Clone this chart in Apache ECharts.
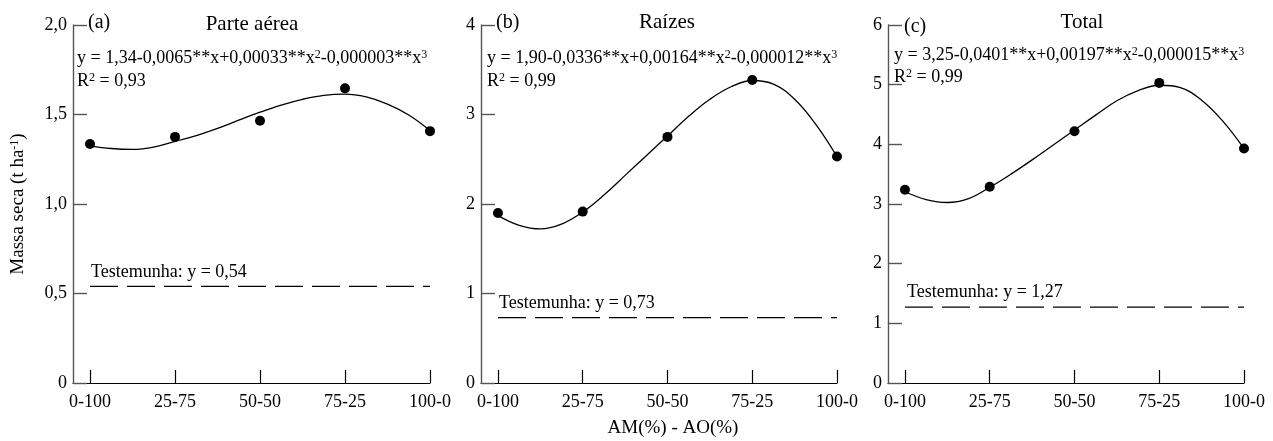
<!DOCTYPE html>
<html>
<head>
<meta charset="utf-8">
<script src="https://cdn.jsdelivr.net/npm/echarts@6/dist/echarts.min.js"></script>
<style>
html,body{margin:0;padding:0;background:#fff;}
#chart{width:1273px;height:441px;}
</style>
</head>
<body>
<div id="chart"></div>
<script>
// ---- data ----
const categories = ['0-100', '25-75', '50-50', '75-25', '100-0'];
const xLevels = [0, 25, 50, 75, 100];
const curveX = [0, 6.25, 12.5, 18.75, 25, 31.25, 37.5, 43.75, 50, 56.25, 62.5, 68.75, 75, 81.25, 87.5, 93.75, 100];

const pointsA = [1.335, 1.375, 1.465, 1.646, 1.407];
const curveA  = [1.325, 1.310, 1.305, 1.318, 1.350, 1.382, 1.422, 1.468, 1.513,
                 1.553, 1.585, 1.607, 1.614, 1.598, 1.558, 1.497, 1.410];
const controlA = 0.54;

const pointsB = [1.90, 1.915, 2.75, 3.385, 2.53];
const curveB  = [1.870, 1.762, 1.722, 1.775, 1.910, 2.100, 2.320, 2.540, 2.760,
                 2.980, 3.170, 3.310, 3.380, 3.340, 3.170, 2.890, 2.530];
const controlB = 0.73;

const pointsC = [3.24, 3.29, 4.22, 5.03, 3.93];
const curveC  = [3.205, 3.075, 3.025, 3.090, 3.280, 3.500, 3.740, 3.990, 4.240,
                 4.490, 4.730, 4.900, 4.990, 4.950, 4.740, 4.390, 3.930];
const controlC = 1.27;

const yTicksA = [0, 0.5, 1.0, 1.5, 2.0];
const yTicksB = [0, 1, 2, 3, 4];
const yTicksC = [0, 1, 2, 3, 4, 5, 6];

const panelTags = ['(a)', '(b)', '(c)'];
const panelTitles = ['Parte aérea', 'Raízes', 'Total'];
const equations = [
  'y = 1,34-0,0065**x+0,00033**x{sup|2}-0,000003**x{sup|3}',
  'y = 1,90-0,0336**x+0,00164**x{sup|2}-0,000012**x{sup|3}',
  'y = 3,25-0,0401**x+0,00197**x{sup|2}-0,000015**x{sup|3}'
];
const r2Texts = ['R{sup|2} = 0,93', 'R{sup|2} = 0,99', 'R{sup|2} = 0,99'];
const controlTexts = ['Testemunha: y = 0,54', 'Testemunha: y = 0,73', 'Testemunha: y = 1,27'];
const yAxisName = 'Massa seca (t ha{sup|-1})';
const xAxisName = 'AM(%) - AO(%)';

// ---- chart ----
const FONT = '"Liberation Serif", "Times New Roman", serif';
const chart = echarts.init(document.getElementById('chart'), null, {renderer: 'canvas'});

const grids = [
  {left: 73, top: 25, width: 357, height: 358},
  {left: 481, top: 25, width: 356, height: 358},
  {left: 888, top: 25, width: 356, height: 358}
];
const yTicks = [yTicksA, yTicksB, yTicksC];
const points = [pointsA, pointsB, pointsC];
const curves = [curveA, curveB, curveC];
const controls = [controlA, controlB, controlC];

function fmtNum(v, dec) {
  if (v === 0) return '0';
  return v.toFixed(dec).replace('.', ',');
}

const xAxes = grids.map((g, i) => ({
  type: 'value', gridIndex: i, min: -5, max: 100,
  axisLine: {show: true, onZero: false, lineStyle: {color: '#000', width: 1.2}},
  axisTick: {show: true, inside: true, length: 13, customValues: xLevels, lineStyle: {color: '#000', width: 1.2}},
  axisLabel: {
    customValues: xLevels, margin: 10,
    formatter: v => categories[xLevels.indexOf(v)],
    fontFamily: FONT, fontSize: 18, color: '#000'
  },
  splitLine: {show: false}
}));

const yAxes = grids.map((g, i) => {
  const t = yTicks[i];
  return {
    type: 'value', gridIndex: i, min: t[0], max: t[t.length - 1], interval: t[1] - t[0],
    axisLine: {show: true, onZero: false, lineStyle: {color: '#555', width: 1.4}},
    axisTick: {show: true, inside: true, length: 14, lineStyle: {color: '#555', width: 1.4}},
    axisLabel: {
      margin: 6, fontFamily: FONT, fontSize: 18, color: '#000',
      formatter: v => fmtNum(v, i === 0 ? 1 : 0)
    },
    splitLine: {show: false}
  };
});
yAxes[0].name = yAxisName;
yAxes[0].nameLocation = 'middle';
yAxes[0].nameRotate = 90;
yAxes[0].nameGap = 45;
yAxes[0].nameTextStyle = {
  fontFamily: FONT, fontSize: 19, color: '#000',
  rich: {sup: {fontFamily: FONT, fontSize: 12, verticalAlign: 'top', color: '#000'}}
};

const series = [];
grids.forEach((g, i) => {
  series.push({
    type: 'line', xAxisIndex: i, yAxisIndex: i, smooth: 0.4, showSymbol: false, symbol: 'none',
    data: curveX.map((x, k) => [x, curves[i][k]]),
    lineStyle: {color: '#000', width: 1.3}, silent: true, z: 2
  });
  series.push({
    type: 'scatter', xAxisIndex: i, yAxisIndex: i, symbol: 'circle', symbolSize: 10,
    data: xLevels.map((x, k) => [x, points[i][k]]),
    itemStyle: {color: '#000', opacity: 1}, z: 3
  });
  series.push({
    type: 'line', xAxisIndex: i, yAxisIndex: i, showSymbol: false, symbol: 'none',
    data: [[0, controls[i]], [100, controls[i]]],
    lineStyle: {color: '#000', width: 1.2, type: [28, 9]}, silent: true, z: 2
  });
});

const richBase = {sup: {fontFamily: FONT, fontSize: 12, verticalAlign: 'top', color: '#000'}};
const tagPos = [[88, 23], [496, 23], [904, 27]];
const titlePos = [[252, 24], [667, 22], [1082, 22]];
const eqPos = [[77, 58], [487, 58], [894, 55]];
const r2Pos = [[77, 81], [487, 81], [894, 77]];
const ctrlPos = [[91, 272], [499, 303], [907, 292]];

const graphic = [];
for (let i = 0; i < 3; i++) {
  graphic.push({type: 'text', x: tagPos[i][0], y: tagPos[i][1], style: {text: panelTags[i], font: '20px ' + FONT, fill: '#000', verticalAlign: 'middle'}});
  graphic.push({type: 'text', x: titlePos[i][0], y: titlePos[i][1], style: {text: panelTitles[i], font: '21px ' + FONT, fill: '#000', align: 'center', verticalAlign: 'middle'}});
  graphic.push({type: 'text', x: eqPos[i][0], y: eqPos[i][1], style: {text: equations[i], font: '18px ' + FONT, fill: '#000', verticalAlign: 'middle', rich: richBase}});
  graphic.push({type: 'text', x: r2Pos[i][0], y: r2Pos[i][1], style: {text: r2Texts[i], font: '18px ' + FONT, fill: '#000', verticalAlign: 'middle', rich: richBase}});
  graphic.push({type: 'text', x: ctrlPos[i][0], y: ctrlPos[i][1], style: {text: controlTexts[i], font: '18px ' + FONT, fill: '#000', verticalAlign: 'middle'}});
}
graphic.push({type: 'text', x: 673, y: 428, style: {text: xAxisName, font: '19px ' + FONT, fill: '#000', align: 'center', verticalAlign: 'middle'}});

chart.setOption({
  animation: false,
  backgroundColor: '#fff',
  grid: grids,
  xAxis: xAxes,
  yAxis: yAxes,
  series: series,
  graphic: graphic
});
</script>
</body>
</html>
